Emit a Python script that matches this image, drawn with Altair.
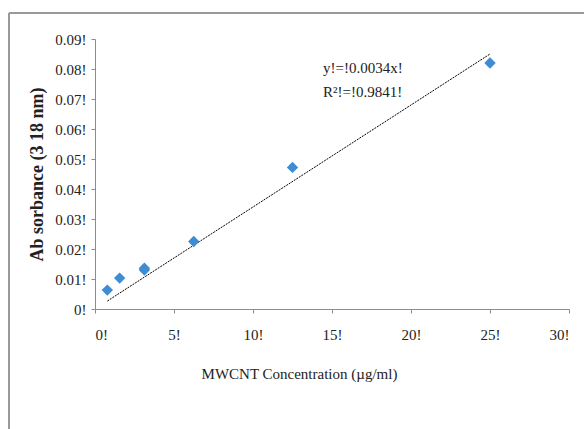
import altair as alt
import pandas as pd

# Data
concentration = [0.78, 1.56, 3.125, 3.125, 6.25, 12.5, 25.0]
absorbance = [0.0063, 0.0103, 0.0130, 0.0136, 0.0225, 0.0472, 0.0820]
trend_x = [0.78, 25.0]
slope = 0.0034
x_ticks = [0, 5, 10, 15, 20, 25, 30]
y_ticks = [0, 0.01, 0.02, 0.03, 0.04, 0.05, 0.06, 0.07, 0.08, 0.09]
annotation = ["y!=!0.0034x!", "R²!=!0.9841!"]

FONT = "Liberation Serif"

pts = pd.DataFrame({"x": concentration, "y": absorbance})
trend = pd.DataFrame({"x": trend_x})

xscale = alt.Scale(domain=[0, 30], nice=False, zero=True)
yscale = alt.Scale(domain=[0, 0.09], nice=False, zero=True)

xaxis = alt.Axis(
    values=x_ticks,
    labelExpr="format(datum.value, '~g') + '!'",
    labelOverlap=False,
    grid=False,
    domainColor="#8c8c8c",
    tickColor="#8c8c8c",
    tickSize=4,
    labelPadding=14,
    titlePadding=24,
    titleX=204,
    titleAnchor="middle",
    labelFont=FONT,
    labelFontSize=15,
    labelColor="#222",
    titleFont=FONT,
    titleFontSize=15,
    titleFontWeight="normal",
    titleColor="#222",
)
yaxis = alt.Axis(
    values=y_ticks,
    tickCount=10,
    labelExpr="format(datum.value, '~g') + '!'",
    labelOverlap=False,
    grid=False,
    domainColor="#8c8c8c",
    tickColor="#8c8c8c",
    tickSize=4,
    labelPadding=5,
    titlePadding=8,
    labelFont=FONT,
    labelFontSize=15,
    labelColor="#222",
    titleFont=FONT,
    titleFontSize=18,
    titleFontWeight="bold",
    titleColor="#222",
)

points = alt.Chart(pts).mark_point(
    shape="diamond", filled=True, size=130, color="#3E8DD3", opacity=1
).encode(
    x=alt.X("x:Q", scale=xscale, axis=xaxis, title="MWCNT Concentration (µg/ml)"),
    y=alt.Y("y:Q", scale=yscale, axis=yaxis, title="Ab sorbance (3 18 nm)"),
)

line = alt.Chart(trend).transform_calculate(
    yt=f"{slope} * datum.x"
).mark_line(color="#000", strokeWidth=1, strokeDash=[2, 1]).encode(
    x=alt.X("x:Q", scale=xscale),
    y=alt.Y("yt:Q", scale=yscale),
)

ann1 = alt.Chart(pd.DataFrame({"t": [annotation[0]]})).mark_text(
    font=FONT, fontSize=15, align="left", baseline="middle", color="#222"
).encode(text="t:N", x=alt.value(228), y=alt.value(29))
ann2 = alt.Chart(pd.DataFrame({"t": [annotation[1]]})).mark_text(
    font=FONT, fontSize=15, align="left", baseline="middle", color="#222"
).encode(text="t:N", x=alt.value(228), y=alt.value(53))

frame_top = alt.Chart(pd.DataFrame({"a": [0]})).mark_rule(
    color="#999", strokeWidth=2
).encode(x=alt.value(-86), x2=alt.value(500), y=alt.value(-26))
frame_left = alt.Chart(pd.DataFrame({"a": [0]})).mark_rule(
    color="#999", strokeWidth=2
).encode(x=alt.value(-86), y=alt.value(-26), y2=alt.value(400))

chart = alt.layer(frame_top, frame_left, line, points, ann1, ann2).properties(
    width=474,
    height=270,
    autosize=alt.AutoSizeParams(type="none"),
    padding={"left": 95, "top": 39, "right": 15, "bottom": 120},
    background="white",
).configure_view(stroke=None)

chart.save("out.html", embed_options={"renderer": "svg", "actions": False})
